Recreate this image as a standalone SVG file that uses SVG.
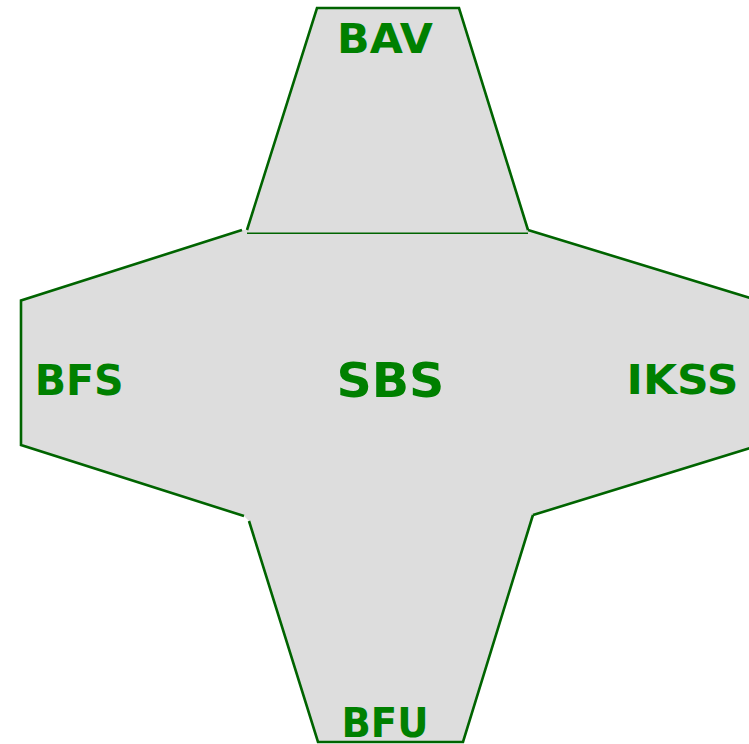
<svg xmlns="http://www.w3.org/2000/svg" width="749" height="744" viewBox="0 0 749 744">
  <style>
    .edge { fill: none; stroke: #006400; stroke-width: 2.6; stroke-linejoin: miter; }
    .thin { fill: none; stroke: #006400; stroke-width: 1.5; }
    .label { font-family: "DejaVu Sans", "Liberation Sans", sans-serif; font-weight: bold; fill: #008000; text-anchor: middle; }
  </style>

  <!-- shared grey body of the cross -->
  <polygon fill="#dddddd" points="317,8 459,8 528,230 757,300 757,446 533,515 532,521 463,742 318,742 249,521 244,516 21,445 21,300.5 242,230 247,230"/>

  <g id="node-bav">
    <polyline class="edge" points="247,230 317,8 459,8 528,230"/>
    <text class="label" x="385" y="53" font-size="41" textLength="96" lengthAdjust="spacingAndGlyphs">BAV</text>
  </g>

  <g id="node-sbs">
    <line class="thin" x1="247" y1="233.3" x2="528" y2="233.3"/>
    <text class="label" x="390.4" y="397" font-size="48" textLength="108" lengthAdjust="spacingAndGlyphs">SBS</text>
  </g>

  <g id="node-bfs">
    <polyline class="edge" points="242,230 21,300.5 21,445 244,516"/>
    <text class="label" x="79.2" y="395" font-size="43" textLength="89" lengthAdjust="spacingAndGlyphs">BFS</text>
  </g>

  <g id="node-ikss">
    <polyline class="edge" points="528,230 757,300 757,446 533,515"/>
    <text class="label" x="682.5" y="394.3" font-size="41" textLength="112" lengthAdjust="spacingAndGlyphs">IKSS</text>
  </g>

  <g id="node-bfu">
    <polyline class="edge" points="249,521 318,742 463,742 532,518 533,515"/>
    <text class="label" x="385" y="736.5" font-size="41" textLength="87" lengthAdjust="spacingAndGlyphs">BFU</text>
  </g>

  <g id="connectors"></g>
</svg>
